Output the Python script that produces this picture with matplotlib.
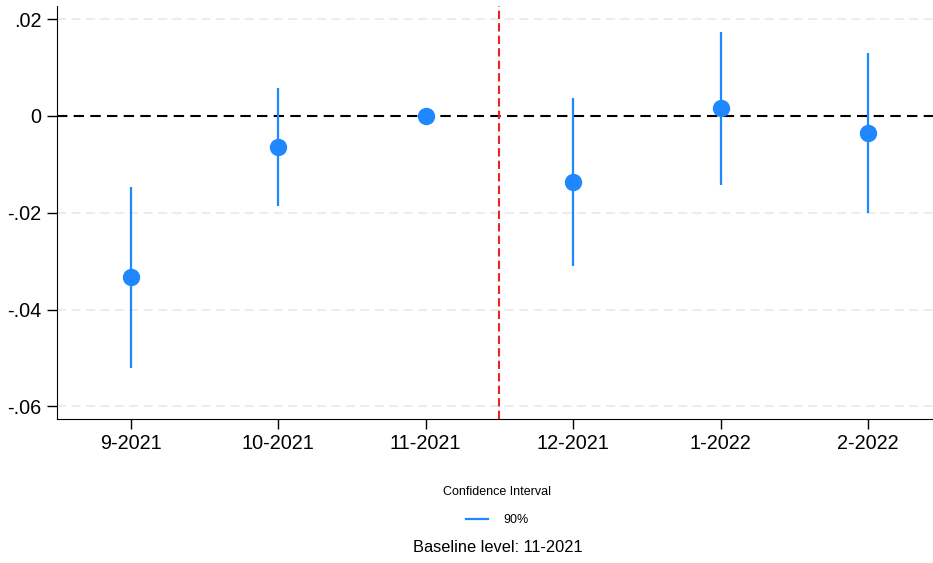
import numpy as np
import matplotlib.pyplot as plt
from matplotlib.lines import Line2D

plt.rcParams['font.family'] = ['Liberation Sans', 'DejaVu Sans']

periods = ['9-2021', '10-2021', '11-2021', '12-2021', '1-2022', '2-2022']
coef = [-0.0333, -0.0064, 0.0, -0.0136, 0.0016, -0.0035]
ci_low = [-0.0521, -0.0187, 0.0, -0.0311, -0.0143, -0.0201]
ci_high = [-0.0147, 0.0057, 0.0, 0.0038, 0.0173, 0.0131]
yticks = [0.02, 0, -0.02, -0.04, -0.06]
ytick_labels = ['.02', '0', '-.02', '-.04', '-.06']

blue = '#1f87ff'
x = np.arange(len(periods))

fig = plt.figure(figsize=(9.33, 5.63), dpi=100)
ax = fig.add_axes([0.0611, 0.2558, 0.9389, 0.7335])

# light dashed grid, black zero line, red cut-off line
for yt in yticks:
    if yt != 0:
        ax.axhline(yt, color='#eaeaea', lw=1.3, dashes=(5, 3), zorder=0)
ax.axhline(0, color='black', lw=1.5, dashes=(5, 3), zorder=1)
ax.axvline(2.5, color='#e8262a', lw=1.5, dashes=(4, 2), zorder=1)

ax.vlines(x, ci_low, ci_high, color=blue, lw=1.6, zorder=2)
ax.plot(x, coef, 'o', color=blue, ms=11.5, zorder=3)

ax.set_xlim(-0.5, 5.44)
ax.set_ylim(-0.0626, 0.0227)
ax.set_xticks(x)
ax.set_xticklabels(periods)
ax.set_yticks(yticks)
ax.set_yticklabels(ytick_labels)
ax.tick_params(labelsize=14.3, length=7, width=1, pad=4)
for s in ['top', 'right']:
    ax.spines[s].set_visible(False)

handle = [Line2D([0], [0], color=blue, lw=1.6)]
leg = fig.legend(handle, ['90%'], title='Confidence Interval', loc='center',
                 bbox_to_anchor=(497 / 933, 1 - 506 / 563), frameon=False,
                 fontsize=9, title_fontsize=9, handlelength=1.8,
                 handletextpad=1.2, borderaxespad=0, labelspacing=0.3)
leg._legend_box.sep = 12
fig.text(498 / 933, 1 - 548 / 563, 'Baseline level: 11-2021', ha='center',
         va='center', fontsize=11.8)

fig.savefig('out.png', dpi=100)
